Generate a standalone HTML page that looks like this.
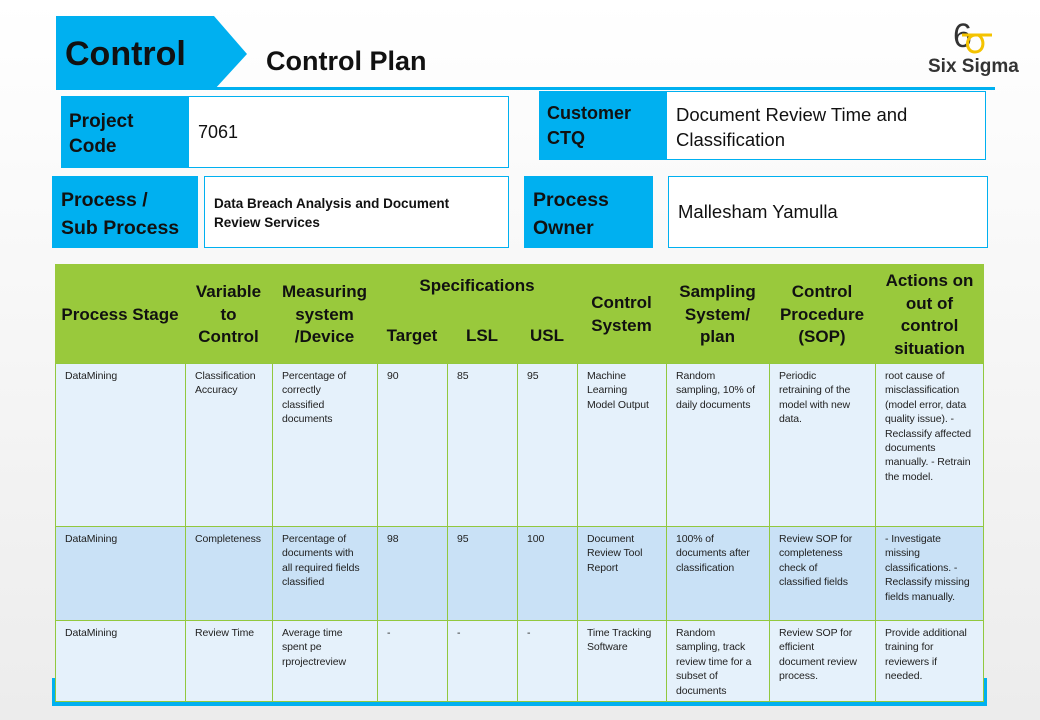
<!DOCTYPE html>
<html><head><meta charset="utf-8"><style>
*{margin:0;padding:0;box-sizing:border-box}
body{width:1040px;height:720px;overflow:hidden;position:relative;background:linear-gradient(#ffffff,#ececec);font-family:"Liberation Sans",sans-serif;color:#111}
.a{position:absolute}
.lab{background:#00b0f0;font-weight:bold;color:#111}
.val{background:#fff;border:1.5px solid #00b0f0}
.c{position:absolute;border:1px solid #92c83e;background:#e5f1fb;font-family:"Liberation Sans",sans-serif;font-size:10.5px;line-height:14.4px;padding:5px 9px;color:#222;letter-spacing:-0.1px}
.r2{background:#c9e1f6}
.h{position:absolute;font-weight:bold;font-size:17px;line-height:22.5px;text-align:center;color:#111}
</style></head><body>
<svg class="a" style="left:0;top:0" width="1040" height="100">
<polygon points="56,16 214,16 247,54 214,90 56,90" fill="#00b0f0"/>
<rect x="56" y="87" width="939" height="3" fill="#00b0f0"/>
<text x="953" y="47" font-family="Liberation Sans, sans-serif" font-size="34" fill="#333">6</text>
<path d="M962 35 L992 35 M975 35 C965 36 965 52 975 52 C985 52 985 38 978 35" stroke="#f4c300" stroke-width="3" fill="none"/>
</svg>
<div class="a" style="left:65px;top:35px;font-size:34px;font-weight:bold">Control</div>
<div class="a" style="left:266px;top:46px;font-size:27px;font-weight:bold">Control Plan</div>
<div class="a" style="left:928px;top:56px;font-size:19px;font-weight:bold;color:#333">Six Sigma</div>

<div class="a lab" style="left:61px;top:96px;width:128px;height:72px;padding:13px 8px;font-size:19px;line-height:25px">Project<br>Code</div>
<div class="a val" style="left:188px;top:96px;width:321px;height:72px;padding:25px 9px;font-size:18px">7061</div>
<div class="a lab" style="left:539px;top:91px;width:128px;height:69px;padding:10px 8px;font-size:18px;line-height:25px">Customer<br>CTQ</div>
<div class="a val" style="left:666px;top:91px;width:320px;height:69px;padding:10px 9px;font-size:18.5px;line-height:25px">Document Review Time and<br>Classification</div>
<div class="a lab" style="left:52px;top:176px;width:146px;height:72px;padding:10px 9px;font-size:19.5px;line-height:28px">Process /<br>Sub Process</div>
<div class="a val" style="left:204px;top:176px;width:305px;height:72px;padding:17px 9px;font-size:13.5px;line-height:19px;font-weight:bold">Data Breach Analysis and Document<br>Review Services</div>
<div class="a lab" style="left:524px;top:176px;width:129px;height:72px;padding:10px 9px;font-size:19.5px;line-height:28px">Process<br>Owner</div>
<div class="a val" style="left:668px;top:176px;width:320px;height:72px;padding:24px 9px;font-size:18.5px">Mallesham Yamulla</div>

<div class="a" style="left:52px;top:678px;width:935px;height:28px;background:#00b0f0"></div>
<div class="a" style="left:55px;top:264px;width:929px;height:100px;background:#99c93c"></div>
<div class="h" style="left:55px;top:304px;width:130px">Process Stage</div>
<div class="h" style="left:185px;top:281px;width:87px">Variable<br>to<br>Control</div>
<div class="h" style="left:272px;top:281px;width:105px">Measuring<br>system<br>/Device</div>
<div class="h" style="left:377px;top:275px;width:200px">Specifications</div>
<div class="h" style="left:377px;top:325px;width:70px">Target</div>
<div class="h" style="left:447px;top:325px;width:70px">LSL</div>
<div class="h" style="left:517px;top:325px;width:60px">USL</div>
<div class="h" style="left:577px;top:292px;width:89px">Control<br>System</div>
<div class="h" style="left:666px;top:281px;width:103px">Sampling<br>System/<br>plan</div>
<div class="h" style="left:769px;top:281px;width:106px">Control<br>Procedure<br>(SOP)</div>
<div class="h" style="left:875px;top:270px;width:109px">Actions on<br>out of<br>control<br>situation</div>

<div class="c" style="left:55px;top:363px;width:131px;height:164px">DataMining</div>
<div class="c" style="left:185px;top:363px;width:88px;height:164px">Classification<br>Accuracy</div>
<div class="c" style="left:272px;top:363px;width:106px;height:164px">Percentage of<br>correctly<br>classified<br>documents</div>
<div class="c" style="left:377px;top:363px;width:71px;height:164px">90</div>
<div class="c" style="left:447px;top:363px;width:71px;height:164px">85</div>
<div class="c" style="left:517px;top:363px;width:61px;height:164px">95</div>
<div class="c" style="left:577px;top:363px;width:90px;height:164px">Machine<br>Learning<br>Model Output</div>
<div class="c" style="left:666px;top:363px;width:104px;height:164px">Random<br>sampling, 10% of<br>daily documents</div>
<div class="c" style="left:769px;top:363px;width:107px;height:164px">Periodic<br>retraining of the<br>model with new<br>data.</div>
<div class="c" style="left:875px;top:363px;width:109px;height:164px">root cause of<br>misclassification<br>(model error, data<br>quality issue). -<br>Reclassify affected<br>documents<br>manually. - Retrain<br>the model.</div>

<div class="c r2" style="left:55px;top:526px;width:131px;height:95px">DataMining</div>
<div class="c r2" style="left:185px;top:526px;width:88px;height:95px">Completeness</div>
<div class="c r2" style="left:272px;top:526px;width:106px;height:95px">Percentage of<br>documents with<br>all required fields<br>classified</div>
<div class="c r2" style="left:377px;top:526px;width:71px;height:95px">98</div>
<div class="c r2" style="left:447px;top:526px;width:71px;height:95px">95</div>
<div class="c r2" style="left:517px;top:526px;width:61px;height:95px">100</div>
<div class="c r2" style="left:577px;top:526px;width:90px;height:95px">Document<br>Review Tool<br>Report</div>
<div class="c r2" style="left:666px;top:526px;width:104px;height:95px">100% of<br>documents after<br>classification</div>
<div class="c r2" style="left:769px;top:526px;width:107px;height:95px">Review SOP for<br>completeness<br>check of<br>classified fields</div>
<div class="c r2" style="left:875px;top:526px;width:109px;height:95px">- Investigate<br>missing<br>classifications. -<br>Reclassify missing<br>fields manually.</div>

<div class="c" style="left:55px;top:620px;width:131px;height:82px">DataMining</div>
<div class="c" style="left:185px;top:620px;width:88px;height:82px">Review Time</div>
<div class="c" style="left:272px;top:620px;width:106px;height:82px">Average time<br>spent pe<br>rprojectreview</div>
<div class="c" style="left:377px;top:620px;width:71px;height:82px">-</div>
<div class="c" style="left:447px;top:620px;width:71px;height:82px">-</div>
<div class="c" style="left:517px;top:620px;width:61px;height:82px">-</div>
<div class="c" style="left:577px;top:620px;width:90px;height:82px">Time Tracking<br>Software</div>
<div class="c" style="left:666px;top:620px;width:104px;height:82px">Random<br>sampling, track<br>review time for a<br>subset of<br>documents</div>
<div class="c" style="left:769px;top:620px;width:107px;height:82px">Review SOP for<br>efficient<br>document review<br>process.</div>
<div class="c" style="left:875px;top:620px;width:109px;height:82px">Provide additional<br>training for<br>reviewers if<br>needed.</div>
</body></html>
